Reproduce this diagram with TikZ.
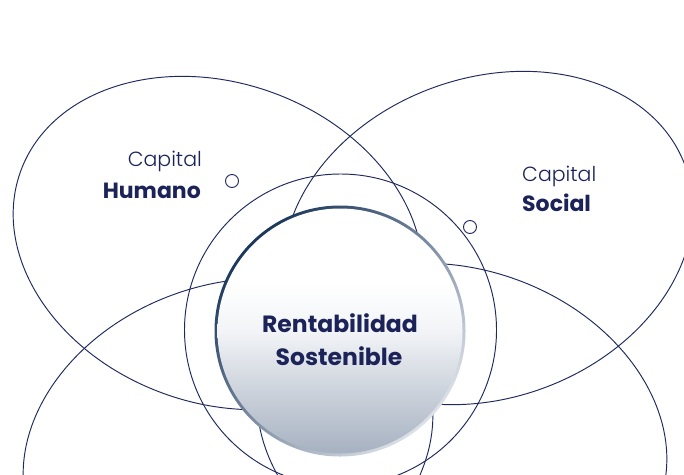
\documentclass[tikz,border=0pt]{standalone}
\usepackage{fontspec}
\setmainfont{Poppins}
\newfontfamily\thinfont{Poppins Light}
\usepackage{tikz}
\usetikzlibrary{positioning}

\definecolor{navy}{HTML}{1B2358}
\definecolor{linenavy}{HTML}{1F295E}
\definecolor{ringdark}{HTML}{1A375C}
\definecolor{ringmid}{HTML}{6F819A}
\definecolor{ringlight}{HTML}{DDE2E8}
\definecolor{fillbot}{HTML}{A6B1C1}
\definecolor{fillquart}{HTML}{CDD3DC}
\definecolor{fillmid}{HTML}{F2F4F7}
\pgfdeclareverticalshading{centrefill}{100bp}{color(0bp)=(fillbot); color(25bp)=(fillbot); color(38bp)=(fillquart); color(50bp)=(fillmid); color(60bp)=(white); color(100bp)=(white)}

\begin{document}
\begin{tikzpicture}[
    x=1pt, y=-1pt,
    orbit/.style={
        draw=linenavy,
        line width=0.95pt
    },
    dot/.style={
        circle,
        draw=linenavy,
        line width=0.95pt,
        fill=white,
        inner sep=0pt,
        minimum size=13pt
    },
    light/.style={
        text=navy,
        inner sep=0pt,
        font=\fontsize{20.5}{24}\thinfont
    },
    heavy/.style={
        text=navy,
        inner sep=0pt,
        font=\fontsize{22}{26}\selectfont\bfseries
    },
    core/.style={
        text=navy,
        inner sep=0pt,
        font=\fontsize{23.5}{28}\selectfont\bfseries
    }
]
\fill[white] (0,0) rectangle (684,474);
\useasboundingbox (0,0) rectangle (684,474);
\clip (0,0) rectangle (684,474);

% four capitals as ellipses
\draw[orbit, rotate around={-20:(218,243)}] (218,243) ellipse [x radius=210, y radius=160];
\draw[orbit, rotate around={20:(488,238)}] (488,238) ellipse [x radius=210, y radius=160];
\draw[orbit, rotate around={20:(228,445)}] (228,445) ellipse [x radius=210, y radius=160];
\draw[orbit, rotate around={-20:(462,430)}] (462,430) ellipse [x radius=210, y radius=160];

% middle ring
\draw[orbit] (340.5,330) circle [radius=156];

% central disc
\shade[top color=ringdark, middle color=ringmid, bottom color=ringlight, shading angle=45] (340,331) circle [radius=125.5];
\shade[shading=centrefill] (340,331) circle [radius=122.5];

\node[core, anchor=base] (rent) at (340,332) {Rentabilidad};
\node[core, anchor=base] (sost) at (339,365) {Sostenible};

% labels
\node[light, anchor=base east] (caph) at (202,166) {Capital};
\node[heavy, anchor=base east] (humano) at (201,198) {Humano};
\node[dot] (doth) at (232,181) {};

\node[light, anchor=base west] (caps) at (522,181) {Capital};
\node[heavy, anchor=base west] (social) at (522,211) {Social};
\node[dot] (dots) at (470,227) {};

\end{tikzpicture}
\end{document}
